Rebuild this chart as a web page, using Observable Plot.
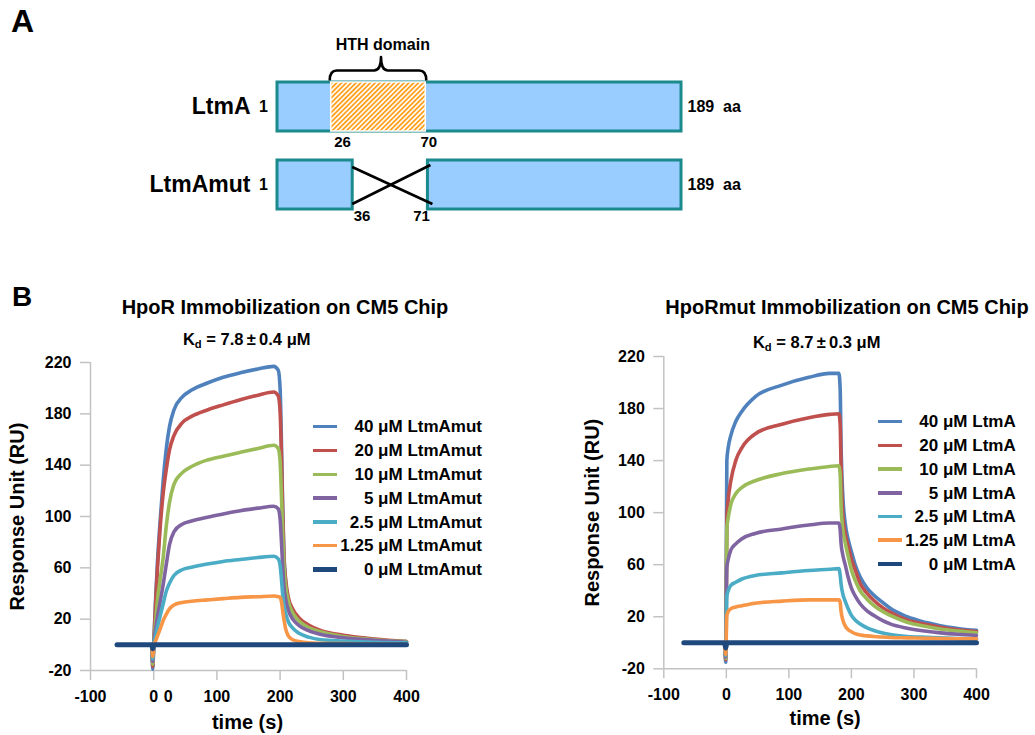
<!DOCTYPE html>
<html><head><meta charset="utf-8">
<script src="https://cdn.jsdelivr.net/npm/d3@7"></script>
<script src="https://cdn.jsdelivr.net/npm/@observablehq/plot@0.6"></script>
<style>
body{margin:0;background:#fff;}
#page{position:relative;width:1035px;height:735px;font-family:"Liberation Sans",Arial,Helvetica,sans-serif;font-weight:bold;color:#000;overflow:hidden;background:#fff}
#page div{position:absolute;white-space:nowrap}
#page svg{position:absolute}
</style></head><body><div id="page"></div>
<script>
// ---------- Panel A data ----------
const seqLength = 189;
const startResidue = 1;
const proteinRows = ["LtmA", "LtmAmut"];
const hthDomain = [26, 70];
const mutDeletion = [36, 71];
const hthLabel = "HTH domain";

// ---------- Panel B data ----------
const concLabels = ["40", "20", "10", "5", "2.5", "1.25", "0"];
const seriesColors = ["#4f81bd", "#c0504d", "#9bbb59", "#8064a2", "#4bacc6", "#f79646", "#1f497d"];
const xTicks = [-100, 0, 100, 200, 300, 400];
const yTicks = [-20, 20, 60, 100, 140, 180, 220];
const leftExtraZeroTick = [23];

// Left: HpoR chip, LtmAmut analyte
const leftTimes = [-58, -3, -1.5, 0, 3, 6, 10, 15, 20, 25, 32, 45, 60, 85, 110, 137, 165, 190, 197, 200, 202, 204, 206, 209, 213, 220, 230, 245, 265, 300, 350, 400];
const left40   = [0, 0, -19, 0, 35, 65, 95, 128, 153, 170, 183, 193, 198.5, 204, 208.5, 212, 215, 217, 214, 200, 160, 110, 72, 48, 34, 25, 19, 14, 10, 7, 4, 2.5];
const left20   = [0, 0, -17, 0, 32, 60, 90, 118, 137, 152, 163, 173, 178, 183, 187, 191, 194.5, 197, 194, 182, 150, 105, 70, 50, 37, 28, 21, 15.5, 11, 7.5, 4.5, 2.5];
const left10   = [0, 0, -15, 0, 18, 35, 50, 68, 93, 111, 125, 134, 139, 144, 147, 150, 153, 155.5, 153, 143, 118, 88, 62, 45, 34, 25, 18.5, 13.5, 10, 6.5, 4, 2.5];
const left5    = [0, 0, -13, 0, 12, 22, 33, 47, 63, 78, 88, 94, 96.5, 99.5, 102, 104.5, 106.5, 108, 106, 98, 82, 62, 46, 35, 27, 20, 15, 11, 8, 5.5, 3.5, 2];
const left2_5  = [0, 0, -11, 0, 7, 14, 22, 32, 42, 48, 54, 58.5, 60.5, 63, 65, 66.5, 68, 69, 67, 62, 52, 40, 31, 24, 18, 13, 9, 6, 4, 3, 2, 1.5];
const left1_25 = [0, 0, -9, 0, 3, 7, 12, 19, 24, 28, 31, 33, 34, 35, 36, 37, 37.5, 38, 37.5, 37, 34, 27, 20, 12, 7, 4, 2.5, 1.5, 1.2, 1, 0.8, 0.5];
const left0Times = [-58, -3, -1.5, 0, 400];
const left0      = [0, 0, -3, 0, 0];

// Right: HpoRmut chip, LtmA analyte
const rightTimes = [-68, -3, -1, 0.8, 3, 7, 15, 25, 46, 89, 132, 165, 180, 182, 183.5, 186, 190, 195, 200, 206, 214, 225, 236, 250, 262, 289, 320, 342, 370, 400];
const right40   = [0, 0, -15, 140, 150, 159, 170, 178, 189, 198, 204, 207, 207, 195, 150, 115, 92, 79, 70, 60, 50.5, 42, 36.5, 31, 26.5, 20, 15.5, 13, 11, 9.5];
const right20   = [0, 0, -13, 95, 110, 124, 140, 150, 160.5, 168, 173, 175.5, 176, 168, 135, 100, 84, 74, 64, 56, 45.5, 38, 32.5, 27, 23.5, 17.6, 14, 12, 10, 8.6];
const right10   = [0, 0, -12, 88, 96, 106, 114.5, 119.5, 124.5, 130, 133.5, 135.5, 136, 130, 105, 88, 77, 66, 56, 48, 40, 33.5, 28.6, 24, 21, 15.8, 12.5, 10.6, 9, 7.6];
const right5    = [0, 0, -11, 58, 64, 71, 76, 80, 84, 87.5, 90.5, 92, 92, 87, 76, 68, 60, 50, 42, 36, 30, 24.5, 20.9, 17, 14.5, 11.2, 8.8, 7.6, 6.5, 5.6];
const right2_5  = [0, 0, -10, 36, 40, 44, 46.5, 49, 51.7, 53.7, 55.5, 56.5, 57, 52, 45, 38, 32, 26, 21, 17.5, 14.5, 11.5, 9.4, 7.5, 6.3, 4.8, 4.2, 3.8, 3.3, 3];
const right1_25 = [0, 0, -9, 21, 24, 26, 27.5, 28.5, 30.4, 32, 33, 33, 33, 31, 24, 18, 13, 10, 8.5, 7, 6, 5.3, 4.8, 4.4, 4.1, 3.8, 3.5, 3.3, 3.1, 3];
const right0Times = [-68, -3, -1, 0.8, 400];
const right0      = [0, 0, -4, 0, 0];

const leftKd = ["7.8", "0.4"];
const rightKd = ["8.7", "0.3"];

// ---------- helpers ----------
const page = document.getElementById("page");
const FONT = '"Liberation Sans", Arial, Helvetica, sans-serif';
function addDiv(html, css) {
  const d = document.createElement("div");
  d.innerHTML = html;
  d.style.cssText += css;
  page.appendChild(d);
  return d;
}
function centeredText(html, cx, cy, size, w = 560) {
  return addDiv(html, `left:${cx - w / 2}px;top:${cy - size * 0.49}px;width:${w}px;text-align:center;font-size:${size}px;line-height:${size}px;`);
}
function toTable(times, seriesList) {
  const rows = [];
  seriesList.forEach((vals, i) => vals.forEach((v, j) => rows.push({t: times[j], v, conc: concLabels[i]})));
  return rows;
}
const plainNum = d => String(d);

// ---------- Panel A ----------
const fullBars = [{row: "LtmA", start: startResidue, end: seqLength}];
const mutBars = [
  {row: "LtmAmut", start: startResidue, end: mutDeletion[0]},
  {row: "LtmAmut", start: mutDeletion[1], end: seqLength}
];
const hthBar = [{row: "LtmA", start: hthDomain[0], end: hthDomain[1]}];
const posLabels = [
  {row: "LtmA", x: hthDomain[0], anchor: "start", dx: 3},
  {row: "LtmA", x: hthDomain[1], anchor: "middle", dx: 3},
];
const posLabelsMut = [
  {row: "LtmAmut", x: mutDeletion[0], anchor: "start", dx: 1},
  {row: "LtmAmut", x: mutDeletion[1], anchor: "end", dx: 2},
];

const plotA = Plot.plot({
  width: 1035, height: 240, margin: 0,
  x: {domain: [startResidue, seqLength], range: [277, 681], axis: null},
  y: {type: "band", domain: proteinRows, range: [82, 210], paddingInner: 0.37, paddingOuter: 0, axis: null},
  style: {fontFamily: FONT, fontWeight: "bold", color: "#000", background: "transparent", overflow: "visible"},
  marks: [
    Plot.barX(fullBars.concat(mutBars), {x1: "start", x2: "end", y: "row", fill: "#99ccff", stroke: "#1b8a8c", strokeWidth: 3}),
    Plot.barX(hthBar, {x1: "start", x2: "end", y: "row", fill: "url(#hthHatch)", stroke: "#fff", strokeWidth: 1.5}),
    Plot.text(proteinRows, {x: () => startResidue, y: d => d, text: d => d, dx: -27, textAnchor: "end", fontSize: 23, fontWeight: "bold"}),
    Plot.text(proteinRows, {x: () => startResidue, y: d => d, text: () => String(startResidue), dx: -14, fontSize: 16, fontWeight: "bold"}),
    Plot.text(proteinRows, {x: () => seqLength, y: d => d, text: () => `${seqLength}  aa`, dx: 6, textAnchor: "start", fontSize: 16, fontWeight: "bold"}),
    Plot.text(posLabels, {x: "x", y: "row", text: d => String(d.x), dy: 35, fontSize: 15, fontWeight: "bold"}),
    Plot.text(posLabelsMut, {x: "x", y: "row", text: d => String(d.x), dy: 31.5, fontSize: 15, fontWeight: "bold"}),
    Plot.text([hthLabel], {x: () => (hthDomain[0] + hthDomain[1]) / 2 + 2, y: () => "LtmA", dy: -62, fontSize: 16, fontWeight: "bold"})
  ]
});
plotA.style.left = "0px"; plotA.style.top = "0px";
page.appendChild(plotA);

{
  const svg = d3.select(plotA);
  const defs = svg.insert("defs", ":first-child");
  const P = 3.4;
  const pat = defs.append("pattern").attr("id", "hthHatch").attr("patternUnits", "userSpaceOnUse")
    .attr("width", P).attr("height", P).attr("patternTransform", "rotate(45)");
  pat.append("rect").attr("width", P).attr("height", P).attr("fill", "#fff");
  pat.append("rect").attr("width", 1.8).attr("height", P).attr("fill", "#ffa01e");

  const xs = plotA.scale("x"), ys = plotA.scale("y");
  const bw = ys.bandwidth;
  // brace over HTH domain
  const bx1 = xs.apply(hthDomain[0]) - 1, bx2 = xs.apply(hthDomain[1]) + 1;
  const bm = (bx1 + bx2) / 2 + 3;
  const top = ys.apply("LtmA");
  const yb = top - 1.5, yl = top - 11.5, yt = top - 25;
  const r = 7;
  const brace = `M${bx1},${yb} Q${bx1},${yl} ${bx1 + r},${yl} L${bm - r},${yl} Q${bm},${yl} ${bm},${yt} Q${bm},${yl} ${bm + r},${yl} L${bx2 - r},${yl} Q${bx2},${yl} ${bx2},${yb}`;
  svg.append("path").attr("d", brace).attr("fill", "none").attr("stroke", "#000").attr("stroke-width", 2.6).attr("stroke-linejoin", "round");
  // crossed lines over the deletion
  const mt = ys.apply("LtmAmut"), mb = mt + bw;
  const cx1 = xs.apply(mutDeletion[0]), cx2 = xs.apply(mutDeletion[1]);
  svg.append("line").attr("x1", cx1).attr("y1", mt + 7).attr("x2", cx2 + 5).attr("y2", mb - 5).attr("stroke", "#000").attr("stroke-width", 2.6);
  svg.append("line").attr("x1", cx1).attr("y1", mb - 5).attr("x2", cx2 + 3).attr("y2", mt + 5).attr("stroke", "#000").attr("stroke-width", 2.6);
  // per-label anchors
  const all = posLabels.concat(posLabelsMut);
  svg.selectAll("text").each(function() {
    const t = this.textContent;
    const lab = all.find(d => String(d.x) === t);
    if (lab) {
      this.setAttribute("text-anchor", lab.anchor);
      const cur = this.getAttribute("transform") || "";
      this.setAttribute("transform", cur + ` translate(${lab.dx},0)`);
    }
  });
}

// panel letters
addDiv("A", `left:11px;top:5px;font-size:32px;line-height:32px;`);
addDiv("B", `left:12px;top:283px;font-size:28px;line-height:28px;`);

// ---------- Panel B charts ----------
function sprChart({times, series, zeroTimes, zero, svgLeft, width, marginLeft, marginRight, marginTop, marginBottom, yLabelDx, xLabelDx, xLabelDy, extraZero}) {
  const colored = toTable(times, series);
  const navy = zero.map((v, j) => ({t: zeroTimes[j], v}));
  const marks = [
    Plot.ruleY([yTicks[0]], {stroke: "#c3c3c3", strokeWidth: 1.5}),
    Plot.ruleX([xTicks[0]], {stroke: "#c3c3c3", strokeWidth: 1.5}),
    Plot.axisX({ticks: xTicks, tickFormat: plainNum, tickSize: 10, tickPadding: 10, stroke: "#c3c3c3", strokeWidth: 1.5, fill: "#000", fontSize: 16, fontWeight: "bold", label: null}),
    Plot.axisY({ticks: yTicks, tickFormat: plainNum, tickSize: 10, tickPadding: 9, stroke: "#c3c3c3", strokeWidth: 1.5, fill: "#000", fontSize: 16, fontWeight: "bold", label: null}),
    Plot.line(colored, {x: "t", y: "v", z: "conc", stroke: "conc", strokeWidth: 3.6, curve: "monotone-x"}),
    Plot.line(navy, {x: "t", y: "v", stroke: seriesColors[6], strokeWidth: 5, curve: "monotone-x"}),
    Plot.text(["time (s)"], {frameAnchor: "bottom", lineAnchor: "middle", textAnchor: "middle", dx: xLabelDx, dy: xLabelDy, fontSize: 20, fontWeight: "bold"}),
    Plot.text(["Response Unit (RU)"], {frameAnchor: "left", lineAnchor: "middle", textAnchor: "middle", rotate: -90, dx: yLabelDx, fontSize: 20, fontWeight: "bold"})
  ];
  if (extraZero) marks.push(Plot.axisX({ticks: extraZero, tickSize: 0, tickPadding: 20, tickFormat: () => "0", fill: "#000", fontSize: 16, fontWeight: "bold", label: null}));
  const p = Plot.plot({
    width, height: 395, marginLeft, marginRight, marginTop, marginBottom,
    x: {domain: [xTicks[0], xTicks[xTicks.length - 1]]},
    y: {domain: [yTicks[0], yTicks[yTicks.length - 1]]},
    color: {domain: concLabels, range: seriesColors},
    style: {fontFamily: FONT, fontWeight: "bold", fontSize: "16px", color: "#000", background: "transparent", overflow: "visible"},
    marks
  });
  p.style.left = svgLeft + "px";
  p.style.top = "340px";
  page.appendChild(p);
  return p;
}

sprChart({
  times: leftTimes, series: [left40, left20, left10, left5, left2_5, left1_25],
  zeroTimes: left0Times, zero: left0,
  svgLeft: 0, width: 520, marginLeft: 90, marginRight: 114, marginTop: 22, marginBottom: 65,
  yLabelDx: -73.3, xLabelDx: -1, xLabelDy: 52, extraZero: leftExtraZeroTick
});
sprChart({
  times: rightTimes, series: [right40, right20, right10, right5, right2_5, right1_25],
  zeroTimes: right0Times, zero: right0,
  svgLeft: 520, width: 515, marginLeft: 143.3, marginRight: 59, marginTop: 16, marginBottom: 66.7,
  yLabelDx: -71.6, xLabelDx: 5, xLabelDy: 50
});

// titles
centeredText("HpoR Immobilization on CM5 Chip", 285, 306.7, 20);
centeredText("HpoRmut Immobilization on CM5 Chip", 847, 306.7, 20);
const kdHtml = kd => `K<span style="font-size:0.68em;position:relative;top:0.3em">d</span> = ${kd[0]}\u2009±\u2009${kd[1]} μM`;
centeredText(kdHtml(leftKd), 246.7, 339, 16.5);
centeredText(kdHtml(rightKd), 816.7, 341.7, 16.5);

// legends
function legend(suffix, lineLeft, textRight, firstY, step) {
  concLabels.forEach((c, i) => {
    const y = firstY + i * step;
    const th = i === 6 ? 4.6 : 3.6;
    addDiv("", `left:${lineLeft}px;top:${y - th / 2}px;width:24px;height:${th}px;background:${seriesColors[i]};`);
    addDiv(`${c} μM ${suffix}`, `left:${lineLeft}px;width:${textRight - lineLeft}px;top:${y - 8.3}px;text-align:right;font-size:17px;line-height:17px;`);
  });
}
legend("LtmAmut", 313, 482, 426.7, 23.8);
legend("LtmA", 878, 1015.7, 421.7, 23.7);
</script></body></html>
